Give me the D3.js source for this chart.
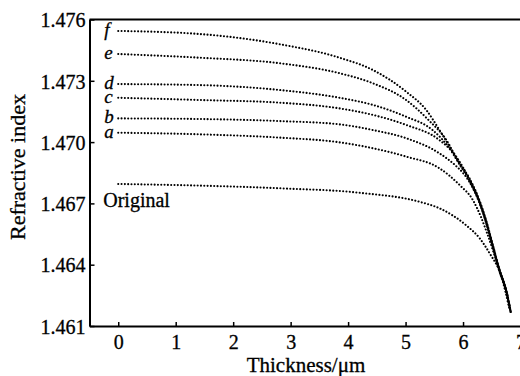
<!DOCTYPE html>
<html>
<head>
<meta charset="utf-8">
<script src="https://cdn.jsdelivr.net/npm/d3@7/dist/d3.min.js"></script>
<style>
  body { margin: 0; background: #fff; }
  svg text { fill: #000; stroke: #000; stroke-width: 0.3px; }
</style>
</head>
<body>
<svg id="chart" width="520" height="376"></svg>
<script>
// axis ticks
const xTicks = [0, 1, 2, 3, 4, 5, 6, 7];
const yTicks = [1.461, 1.464, 1.467, 1.470, 1.473, 1.476];

// curves: [thickness (um), refractive index]
const curveF = [[0, 1.47544], [1.42, 1.47529], [2.81, 1.47479], [3.85, 1.47413], [4.43, 1.47353],
  [5.01, 1.47247], [5.36, 1.47157], [5.59, 1.47059], [5.77, 1.46977], [5.94, 1.46898], [6.11, 1.46824],
  [6.29, 1.46712], [6.40, 1.46619], [6.51, 1.46506], [6.63, 1.46382], [6.76, 1.46268], [6.83, 1.46172]];
const curveE = [[0, 1.47431], [1.42, 1.47413], [2.81, 1.47386], [3.85, 1.47337], [4.43, 1.47288],
  [5.01, 1.47206], [5.40, 1.47108], [5.71, 1.47010], [5.94, 1.46893], [6.11, 1.46820], [6.29, 1.46708],
  [6.40, 1.46616], [6.51, 1.46503], [6.63, 1.46379], [6.76, 1.46265], [6.83, 1.46170]];
const curveD = [[0, 1.47284], [1.42, 1.47279], [2.81, 1.47255], [3.85, 1.47217], [4.43, 1.47182],
  [5.01, 1.47124], [5.47, 1.47059], [5.77, 1.46967], [5.94, 1.46890], [6.11, 1.46816], [6.29, 1.46705],
  [6.40, 1.46612], [6.51, 1.46500], [6.63, 1.46377], [6.76, 1.46263], [6.83, 1.46169]];
const curveC = [[0, 1.47217], [1.42, 1.47206], [2.81, 1.47193], [3.85, 1.47165], [4.43, 1.47133],
  [5.01, 1.47084], [5.59, 1.47010], [5.86, 1.46937], [6.01, 1.46870], [6.11, 1.46812], [6.29, 1.46702],
  [6.40, 1.46609], [6.51, 1.46497], [6.63, 1.46375], [6.76, 1.46261], [6.83, 1.46168]];
const curveB = [[0, 1.47116], [1.42, 1.47113], [2.81, 1.47103], [3.85, 1.47087], [4.43, 1.47059],
  [5.01, 1.47019], [5.59, 1.46945], [5.86, 1.46888], [6.01, 1.46845], [6.11, 1.46806], [6.29, 1.46698],
  [6.40, 1.46605], [6.51, 1.46494], [6.63, 1.46372], [6.76, 1.46259], [6.83, 1.46166]];
const curveA = [[0, 1.47046], [1.42, 1.47038], [2.81, 1.47022], [3.85, 1.46999], [4.43, 1.46970],
  [5.01, 1.46929], [5.59, 1.46872], [5.94, 1.46790], [6.17, 1.46717], [6.31, 1.46635], [6.43, 1.46545],
  [6.63, 1.46374], [6.76, 1.46259], [6.83, 1.46166]];
const curveOriginal = [[0, 1.46795], [1.42, 1.46787], [2.81, 1.46774], [4.20, 1.46752], [5.24, 1.46708],
  [5.59, 1.46676], [5.81, 1.46643], [6.05, 1.46594], [6.29, 1.46529], [6.46, 1.46457], [6.67, 1.46340], [6.81, 1.46179]];

const curves = [curveF, curveE, curveD, curveC, curveB, curveA, curveOriginal];
const curveLabels = ["f", "e", "d", "c", "b", "a"];

const serif = 'Liberation Serif';

const svg = d3.select('#chart');

const x = d3.scaleLinear().domain([-0.5, 7.2]).range([89.5, 532]);
const y = d3.scaleLinear().domain([1.461, 1.476]).range([326, 19.5]);

// dotted curves
const line = d3.line()
  .x(d => x(d[0]))
  .y(d => y(d[1]))
  .curve(d3.curveMonotoneX);

svg.append('g')
  .selectAll('path')
  .data(curves)
  .enter()
  .append('path')
  .attr('d', line)
  .attr('fill', 'none')
  .attr('stroke', '#000')
  .attr('stroke-width', 2.1)
  .attr('stroke-linecap', 'round')
  .attr('stroke-dasharray', '0.01 3.3');

// axes
const xAxis = svg.append('g')
  .attr('transform', `translate(0,${y(1.461)})`)
  .call(d3.axisBottom(x).tickValues(xTicks).tickSize(-4).tickSizeOuter(0).tickPadding(9).tickFormat(d3.format('d')));

const yAxis = svg.append('g')
  .attr('transform', `translate(${x(-0.5)},0)`)
  .call(d3.axisLeft(y).tickValues(yTicks).tickSize(-5).tickSizeOuter(0).tickPadding(4).tickFormat(d3.format('.3f')));

[xAxis, yAxis].forEach(a => {
  a.attr('font-family', serif).attr('font-size', 20);
  a.select('.domain').attr('stroke-width', 2);
  a.selectAll('.tick line').attr('stroke-width', 1.5);
  a.selectAll('.tick text').style('font-family', serif).style('font-size', '20px');
});
yAxis.selectAll('.tick text').attr('dy', '0.36em');

// top frame line
svg.append('line')
  .attr('x1', x(-0.5)).attr('x2', x(7.2))
  .attr('y1', y(1.476)).attr('y2', y(1.476))
  .attr('stroke', '#000')
  .attr('stroke-width', 2);

// curve labels
svg.append('g')
  .selectAll('text')
  .data(curveLabels)
  .enter()
  .append('text')
  .attr('x', x(0) - 14)
  .attr('y', (d, i) => y(curves[i][0][1]) + 5)
  .style('font-family', serif)
  .style('font-size', '19px')
  .style('font-style', 'italic')
  .text(d => d);

svg.append('text')
  .attr('x', x(0) - 15)
  .attr('y', y(curveOriginal[0][1]) + 23)
  .style('font-family', serif)
  .style('font-size', '20px')
  .text('Original');

// axis titles
svg.append('text')
  .attr('x', 306)
  .attr('y', 372)
  .attr('text-anchor', 'middle')
  .style('font-family', serif)
  .style('font-size', '21px')
  .text('Thickness/μm');

svg.append('text')
  .attr('transform', 'translate(25,167) rotate(-90)')
  .attr('text-anchor', 'middle')
  .style('font-family', serif)
  .style('font-size', '22px')
  .text('Refractive index');
</script>
</body>
</html>
